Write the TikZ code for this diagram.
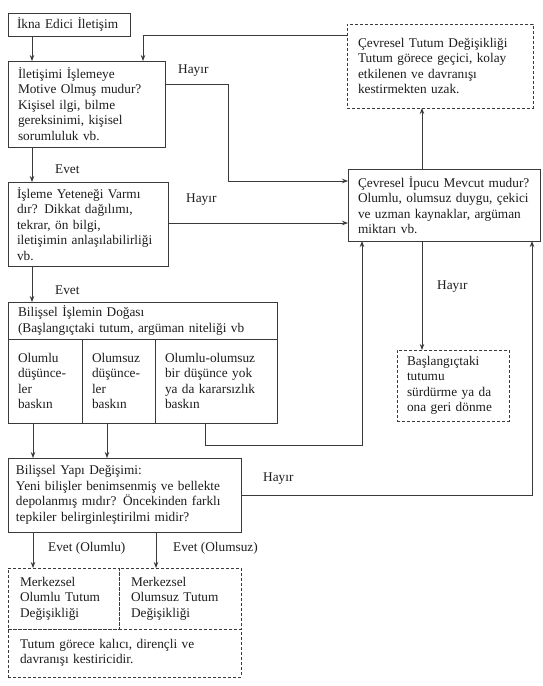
\documentclass[tikz,border=0pt]{standalone}
\usepackage{fontspec}
\setmainfont{Liberation Serif}
\usetikzlibrary{arrows.meta}
\definecolor{linec}{HTML}{3A3A3A}
\definecolor{txtc}{HTML}{1C1C1C}
\newcommand{\fs}{\fontsize{13.3}{15.5}\selectfont}
\hfuzz=20pt
\begin{document}
\begin{tikzpicture}[x=1pt,y=-1pt,
  box/.style={draw=linec, line width=0.9pt, anchor=north west, align=left,
    inner xsep=10pt, inner ysep=0pt, outer sep=0pt, font=\fs, text=txtc},
  dbox/.style={box, dash pattern=on 3pt off 2pt},
  lbl/.style={anchor=west, inner sep=0pt, font=\fs, text=txtc},
  arr/.style={draw=linec, line width=0.8pt, -{Stealth[length=6pt,width=4.5pt]}},
  ln/.style={draw=linec, line width=0.8pt}]
\useasboundingbox (0,0) rectangle (542,686);

% boxes
\node[box, inner xsep=9pt, minimum width=122pt, minimum height=23pt, text width=104pt] (b1) at (8,13) {\mbox{İkna Edici İletişim}};
\node[box, minimum width=157pt, minimum height=86pt, text width=137pt] (b2) at (8,61)
  {İletişimi İşlemeye\\Motive Olmuş mudur?\\Kişisel ilgi, bilme\\gereksinimi, kişisel\\sorumluluk vb.};
\node[box, inner xsep=9pt, minimum width=160pt, minimum height=84pt, text width=142pt] (b3) at (8,182)
  {İşleme Yeteneği Varmı\\dır? Dikkat dağılımı,\\tekrar, ön bilgi,\\\mbox{iletişimin anlaşılabilirliği}\\vb.};
\node[box, minimum width=269pt, minimum height=37pt, text width=249pt] (b4h) at (8,302)
  {Bilişsel İşlemin Doğası\\(Başlangıçtaki tutum, argüman niteliği vb};
\node[box, minimum width=74pt, minimum height=84pt, text width=54pt] (c1) at (8,339)
  {Olumlu\\düşünce-\\ler\\baskın};
\node[box, minimum width=73pt, minimum height=84pt, text width=53pt] (c2) at (82,339)
  {Olumsuz\\düşünce-\\ler\\baskın};
\node[box, minimum width=122pt, minimum height=84pt, text width=102pt] (c3) at (155,339)
  {Olumlu-olumsuz\\bir düşünce yok\\ya da kararsızlık\\baskın};
\node[box, inner xsep=8pt, minimum width=233pt, minimum height=74pt, text width=217pt] (b5) at (8,458)
  {Bilişsel Yapı Değişimi:\\Yeni bilişler benimsenmiş ve bellekte\\depolanmış mıdır? Öncekinden farklı\\tepkiler belirginleştirilmi midir?};
\node[dbox, inner xsep=12pt, minimum width=111pt, minimum height=61pt, text width=87pt] (m1) at (8,568)
  {Merkezsel\\Olumlu Tutum\\Değişikliği};
\node[dbox, inner xsep=12pt, minimum width=122pt, minimum height=61pt, text width=98pt] (m2) at (119,568)
  {Merkezsel\\Olumsuz Tutum\\Değişikliği};
\node[dbox, inner xsep=12pt, minimum width=233pt, minimum height=48pt, text width=209pt] (tb) at (8,629)
  {Tutum görece kalıcı, dirençli ve\\davranışı kestiricidir.};
\node[dbox, inner xsep=11pt, minimum width=186pt, minimum height=84pt, text width=164pt] (tr) at (347,24)
  {Çevresel Tutum Değişikliği\\Tutum görece geçici, kolay\\etkilenen ve davranışı\\kestirmekten uzak.};
\node[box, inner xsep=10pt, minimum width=192pt, minimum height=72pt, text width=172pt] (ip) at (348,169)
  {\mbox{Çevresel İpucu Mevcut mudur?}\\\mbox{Olumlu, olumsuz duygu, çekici}\\\mbox{ve uzman kaynaklar, argüman}\\miktarı vb.};
\node[dbox, minimum width=112pt, minimum height=71pt, text width=92pt] (bs) at (397,350)
  {Başlangıçtaki\\tutumu\\sürdürme ya da\\ona geri dönme};

% labels
\node[lbl] (e1) at (55,169) {Evet};
\node[lbl] (e2) at (55,290) {Evet};
\node[lbl] (h1l) at (178,71) {Hayır};
\node[lbl] (h2l) at (186,200) {Hayır};
\node[lbl] (h3l) at (437,287) {Hayır};
\node[lbl] (h4l) at (263,479) {Hayır};
\node[lbl] (e3) at (48,548) {Evet (Olumlu)};
\node[lbl] (e4) at (173,548) {Evet (Olumsuz)};

% coordinates
\coordinate (a1) at ([xshift=24pt]b1.south west);
\coordinate (a2) at ([xshift=24pt]b2.south west);
\coordinate (a3) at ([xshift=24pt]b3.south west);
\coordinate (p1) at ([xshift=25pt]c1.south west);
\coordinate (p2) at ([xshift=25pt]c2.south west);
\coordinate (q1) at ([xshift=25pt]m1.north west);
\coordinate (q2) at ([xshift=37pt]m2.north west);
\coordinate (u1) at ([xshift=74pt]ip.north west);
\coordinate (u2) at ([xshift=74pt]ip.south west);
\coordinate (t1) at ([yshift=-11pt]tr.north west);
\coordinate (t2) at ([xshift=135pt]b2.north west);
\coordinate (h1) at ([yshift=-23pt]b2.north east);
\coordinate (h2) at ([yshift=-12pt]ip.north west);
\coordinate (h3) at ([yshift=-41pt]b3.north east);
\coordinate (k1) at ([xshift=50pt]c3.south west);
\coordinate (k2) at ([xshift=14pt]ip.south west);
\coordinate (k3) at ([yshift=-37pt]b5.north east);
\coordinate (k4) at ([xshift=184pt]ip.south west);

% connectors
\draw[arr] (a1) -- (a1 |- b2.north);
\draw[arr] (a2) -- (a2 |- b3.north);
\draw[arr] (a3) -- (a3 |- b4h.north);
\draw[arr] (p1) -- (p1 |- b5.north);
\draw[arr] (p2) -- (p2 |- b5.north);
\draw[arr] (q1 |- b5.south) -- (q1);
\draw[arr] (q2 |- b5.south) -- (q2);
\draw[arr] (u1) -- (u1 |- tr.south);
\draw[arr] (u2) -- (u2 |- bs.north);
\draw[arr] (t1) -| (t2);
\draw[arr] (h1) -- ++(63,0) |- (h2);
\draw[arr] (h3) -- (h3 -| ip.west);
\draw[arr] (k1) -- ++(0,22) -| (k2);
\draw[arr] (k3) -| (k4);
\end{tikzpicture}
\end{document}
